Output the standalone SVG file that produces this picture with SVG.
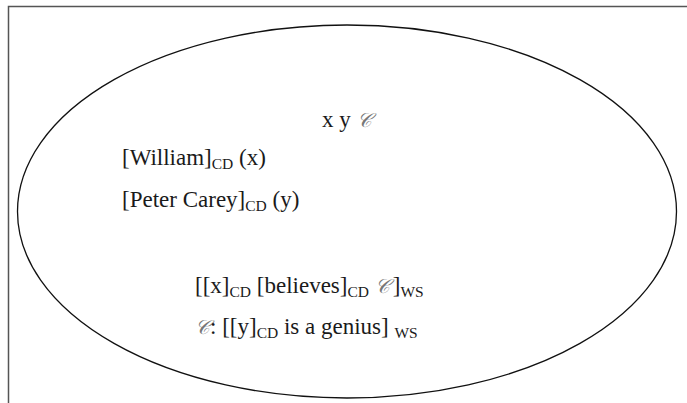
<svg xmlns="http://www.w3.org/2000/svg" width="687" height="403" viewBox="0 0 687 403">
<style>
.t{font-family:"Liberation Serif","Times New Roman",serif;font-size:23px;fill:#1a1a1a}
.s{font-size:15.5px}
.c{font-family:"DejaVu Serif","Liberation Serif",serif;font-style:italic;fill:#777;font-size:20px}
</style>
<rect width="687" height="403" fill="#fff"/>
<g id="frame" fill="none" stroke="#555" stroke-width="1.5">
<path d="M8.5 403 V6.5 H687"/>
</g>
<g id="ellipse"><ellipse cx="347" cy="211.5" rx="329.5" ry="186.5" fill="none" stroke="#111" stroke-width="1.3"/></g>
<g id="labels">
<text class="t" x="322" y="127">x y <tspan class="c">𝒞</tspan></text>
<text class="t" x="122" y="165">[William]<tspan class="s" dy="4">CD</tspan><tspan dy="-4"> (x)</tspan></text>
<text class="t" x="122" y="207">[Peter Carey]<tspan class="s" dy="4">CD</tspan><tspan dy="-4"> (y)</tspan></text>
<text class="t" x="195" y="293">[[x]<tspan class="s" dy="4">CD</tspan><tspan dy="-4"> [believes]</tspan><tspan class="s" dy="4">CD</tspan><tspan dy="-4"> </tspan><tspan class="c">𝒞</tspan><tspan dx="3">]</tspan><tspan class="s" dy="4">WS</tspan></text>
<text class="t" x="195" y="334"><tspan class="c">𝒞</tspan>: [[y]<tspan class="s" dy="4">CD</tspan><tspan dy="-4"> is a genius] </tspan><tspan class="s" dy="4">WS</tspan></text>
</g>
</svg>
